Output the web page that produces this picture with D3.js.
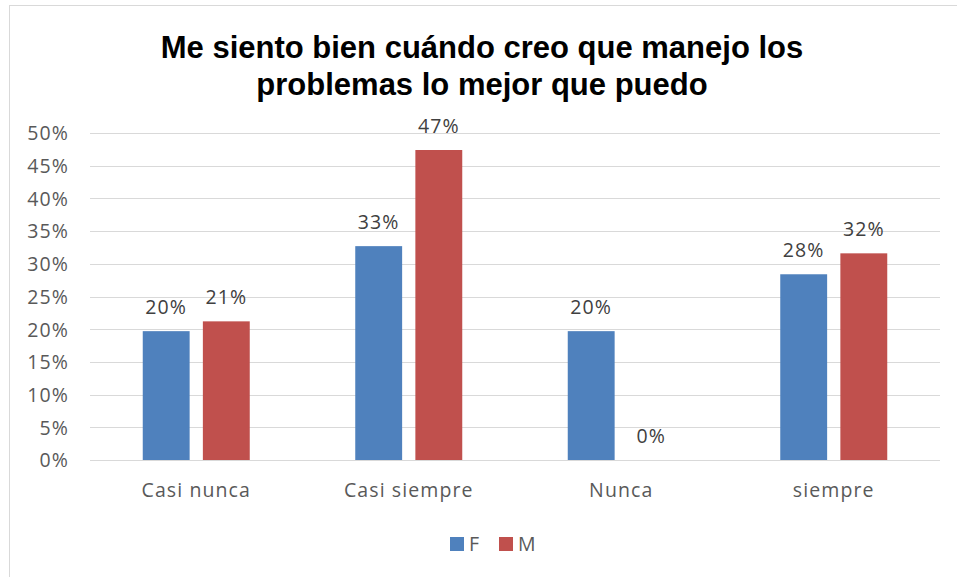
<!DOCTYPE html>
<html>
<head>
<meta charset="utf-8">
<script src="https://cdn.jsdelivr.net/npm/d3@7"></script>
<style>
  body { margin:0; background:#fff; }
  svg { display:block; }
</style>
</head>
<body>
<svg width="957" height="577"></svg>
<script>
// ---------- data ----------
const categories = ["Casi nunca", "Casi siempre", "Nunca", "siempre"];
const seriesNames = ["F", "M"];
const valuesF = [0.197, 0.327, 0.197, 0.284];
const valuesM = [0.212, 0.474, 0, 0.316];
const labelsF = ["20%", "33%", "20%", "28%"];
const labelsM = ["21%", "47%", "0%", "32%"];
const yTicks = [0, 0.05, 0.10, 0.15, 0.20, 0.25, 0.30, 0.35, 0.40, 0.45, 0.50];

const C = { F:"#4f81bd", M:"#c0504d", grid:"#d9d9d9", text:"#595959", border:"#d9d9d9" };
const FONT = "Open Sans, sans-serif";
const FS = 19.5, LS = "1.1px";

const svg = d3.select("svg");

// chart frame
svg.append("rect").attr("x",9.5).attr("y",5.5).attr("width",960).attr("height",600)
  .attr("fill","#fff").attr("stroke",C.border).attr("stroke-width",1);

// title
const title = svg.append("text").attr("text-anchor","middle")
  .attr("font-family","Liberation Sans, Arial, sans-serif").attr("font-weight",700)
  .attr("font-size",31).attr("fill","#000");
title.append("tspan").attr("x",482).attr("y",58).text("Me siento bien cuándo creo que manejo los");
title.append("tspan").attr("x",482).attr("y",95).text("problemas lo mejor que puedo");

// scales
const x0 = d3.scaleBand().domain(categories).range([90, 940]);
const x1 = d3.scaleBand().domain(seriesNames).range([0, 107]).paddingInner(0.22);
const y = d3.scaleLinear().domain([0, 0.5]).range([460, 133]);

// grid
svg.append("g").selectAll("line").data(yTicks).join("line")
  .attr("x1",90).attr("x2",940)
  .attr("y1",d=>Math.round(y(d))+0.5).attr("y2",d=>Math.round(y(d))+0.5)
  .attr("stroke",C.grid).attr("stroke-width",1);

// y axis labels
const yAxis = svg.append("g").attr("transform","translate(90,0)")
  .call(d3.axisLeft(y).tickValues(yTicks).tickFormat(d3.format(".0%")).tickSize(0).tickPadding(21));
yAxis.select(".domain").remove();
yAxis.selectAll("text").attr("font-family",FONT).attr("font-size",FS).attr("letter-spacing",LS)
  .attr("fill",C.text).attr("dy","0.35em");

// x axis labels
const xAxis = svg.append("g").attr("transform","translate(0,460)")
  .call(d3.axisBottom(x0).tickSize(0).tickPadding(23));
xAxis.select(".domain").remove();
xAxis.selectAll("text").attr("font-family",FONT).attr("font-size",FS).attr("letter-spacing",LS)
  .attr("fill",C.text);

// bars
const rows = categories.map((c,i)=>({cat:c, vals:[
  {s:"F", v:valuesF[i], lab:labelsF[i]},
  {s:"M", v:valuesM[i], lab:labelsM[i]}
]}));
const off = (x0.bandwidth() - 107)/2;
const groups = svg.append("g").selectAll("g").data(rows).join("g")
  .attr("transform",d=>`translate(${x0(d.cat)+off},0)`);
groups.selectAll("rect").data(d=>d.vals).join("rect")
  .attr("x",d=>x1(d.s)).attr("width",x1.bandwidth())
  .attr("y",d=>y(d.v)).attr("height",d=>y(0)-y(d.v))
  .attr("fill",d=>C[d.s]);
groups.selectAll("text").data(d=>d.vals).join("text")
  .attr("x",d=>x1(d.s)+x1.bandwidth()/2).attr("y",d=>y(d.v)-17)
  .attr("text-anchor","middle").attr("font-family",FONT)
  .attr("font-size",FS).attr("letter-spacing",LS).attr("fill","#404040").text(d=>d.lab);

// legend
const lg = svg.append("g").attr("transform","translate(450,544)");
seriesNames.forEach((s,i)=>{
  const g = lg.append("g").attr("transform",`translate(${i*49},0)`);
  g.append("rect").attr("x",0).attr("y",-7).attr("width",14).attr("height",14).attr("fill",C[s]);
  g.append("text").attr("x",19).attr("y",0).attr("dy","0.35em").attr("font-family",FONT)
    .attr("font-size",FS).attr("letter-spacing",LS).attr("fill",C.text).text(s);
});
</script>
</body>
</html>
